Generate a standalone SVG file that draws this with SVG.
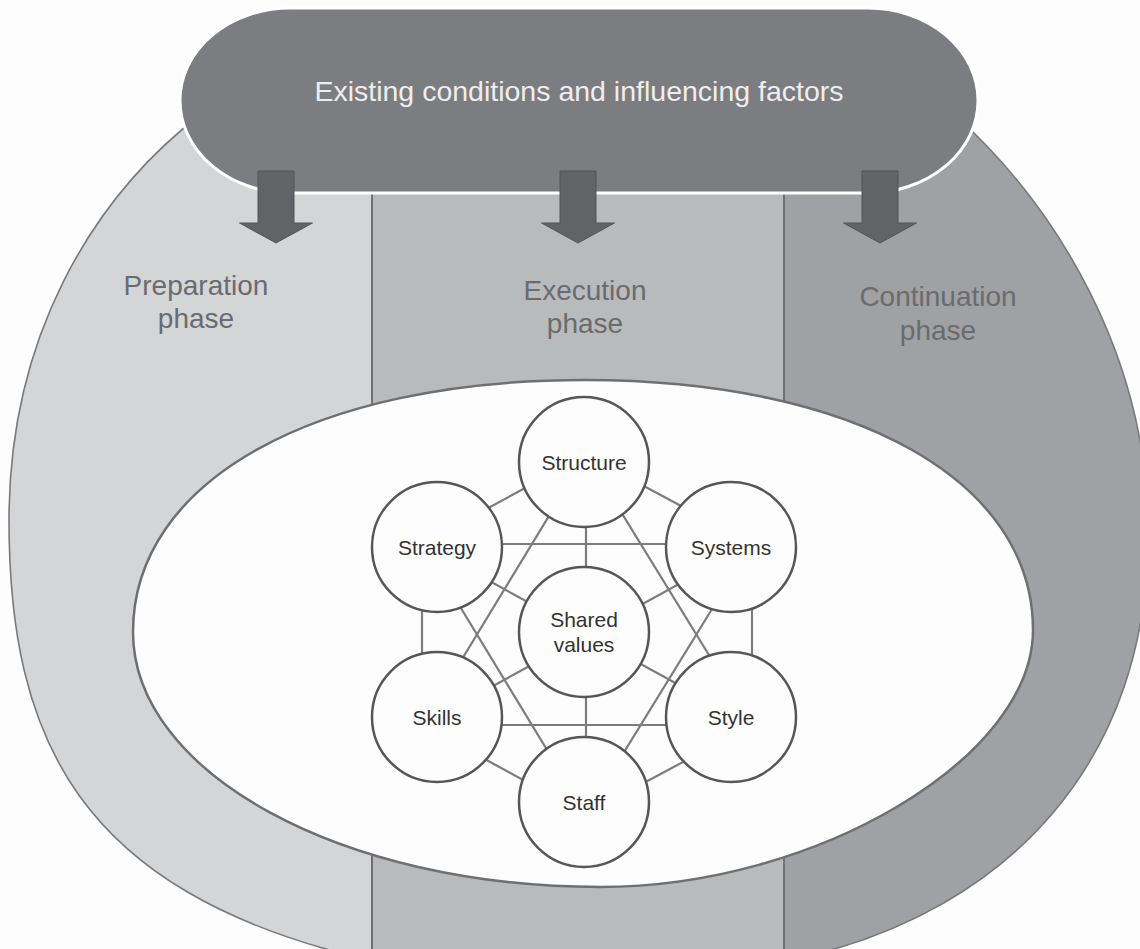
<svg xmlns="http://www.w3.org/2000/svg" width="1140" height="949" viewBox="0 0 1140 949">
<style>
.phase{font-family:"Liberation Sans",Arial,sans-serif;font-size:28px;fill:#6a6b6e;text-anchor:middle}
.node circle{fill:#fdfdfd;stroke:#555658;stroke-width:2.5}
.node text{font-family:"Liberation Sans",Arial,sans-serif;font-size:21px;fill:#333;text-anchor:middle}
.conn line{stroke:#7c7c7e;stroke-width:2.2}
.arrow{fill:#626366;stroke:#555;stroke-width:1}
.divider{stroke:#707072;stroke-width:2}
</style>
<defs>
<clipPath id="outerClip">
<path id="outerPath" d="M200,115 C90,200 9,340 9,520 C9,740 80,890 360,958 L800,958 C1010,910 1150,760 1148,530 C1148,360 1060,210 955,115 Z"/>
</clipPath>
</defs>
<rect width="1140" height="949" fill="#fdfdfd"/>
<g id="phases">
<g clip-path="url(#outerClip)">
<rect x="0" y="0" width="372" height="960" fill="#d4d5d7"/>
<rect x="372" y="0" width="412" height="960" fill="#b9babc"/>
<rect x="784" y="0" width="400" height="960" fill="#a0a1a4"/>
<line class="divider" x1="372" y1="190" x2="372" y2="960"/>
<line class="divider" x1="784" y1="190" x2="784" y2="960"/>
</g>
<path d="M200,115 C90,200 9,340 9,520 C9,740 80,890 360,958 L800,958 C1010,910 1150,760 1148,530 C1148,360 1060,210 955,115 Z" fill="none" stroke="#78797b" stroke-width="1.6"/>
</g>
<g id="inner">
<path d="M133,632 C133,481 314,380 585,380 C854,380 1033,480 1033,630 C1033,758 816,887 600,887 C342,887 133,773 133,632 Z" fill="#fdfdfd" stroke="#6e6f71" stroke-width="2.5"/>
</g>
<g id="factors">
<rect x="180" y="8" width="798" height="185" rx="110" ry="92.5" fill="#7c7d81" stroke="#ffffff" stroke-width="3"/>
<text x="579" y="101" style="font-family:'Liberation Sans',Arial,sans-serif;font-size:28.5px;fill:#eeeeee;text-anchor:middle">Existing conditions and influencing factors</text>
</g>
<g id="arrows">
<path class="arrow" d="M258,171 H294 V223 H312.5 L276,243 L239.5,223 H258 Z"/>
<path class="arrow" d="M560,171 H596 V223 H614.5 L578,243 L541.5,223 H560 Z"/>
<path class="arrow" d="M862,171 H898 V223 H916.5 L880,243 L843.5,223 H862 Z"/>
</g>
<g id="label-preparation">
<text class="phase" x="196" y="295">Preparation</text>
<text class="phase" x="196" y="328">phase</text>
</g>
<g id="label-execution">
<text class="phase" x="585" y="300">Execution</text>
<text class="phase" x="585" y="333">phase</text>
</g>
<g id="label-continuation">
<text class="phase" x="938" y="306">Continuation</text>
<text class="phase" x="938" y="340">phase</text>
</g>
<g id="connectors" class="conn">
<line x1="586" y1="455" x2="752" y2="544"/>
<line x1="752" y1="544" x2="752" y2="725"/>
<line x1="752" y1="725" x2="586" y2="814"/>
<line x1="586" y1="814" x2="422" y2="725"/>
<line x1="422" y1="725" x2="422" y2="544"/>
<line x1="422" y1="544" x2="586" y2="455"/>
<line x1="586" y1="455" x2="422" y2="725"/>
<line x1="422" y1="725" x2="752" y2="725"/>
<line x1="752" y1="725" x2="586" y2="455"/>
<line x1="422" y1="544" x2="752" y2="544"/>
<line x1="752" y1="544" x2="586" y2="814"/>
<line x1="586" y1="814" x2="422" y2="544"/>
<line x1="586" y1="455" x2="586" y2="814"/>
<line x1="422" y1="544" x2="752" y2="725"/>
<line x1="752" y1="544" x2="422" y2="725"/>
</g>
<g id="node-structure" class="node"><circle cx="584" cy="462" r="65"/><text x="584" y="470">Structure</text></g>
<g id="node-strategy" class="node"><circle cx="437" cy="547" r="65"/><text x="437" y="555">Strategy</text></g>
<g id="node-systems" class="node"><circle cx="731" cy="547" r="65"/><text x="731" y="555">Systems</text></g>
<g id="node-shared" class="node"><circle cx="584" cy="632" r="65"/><text x="584" y="627">Shared</text><text x="584" y="652">values</text></g>
<g id="node-skills" class="node"><circle cx="437" cy="717" r="65"/><text x="437" y="725">Skills</text></g>
<g id="node-style" class="node"><circle cx="731" cy="717" r="65"/><text x="731" y="725">Style</text></g>
<g id="node-staff" class="node"><circle cx="584" cy="802" r="65"/><text x="584" y="810">Staff</text></g>
</svg>
